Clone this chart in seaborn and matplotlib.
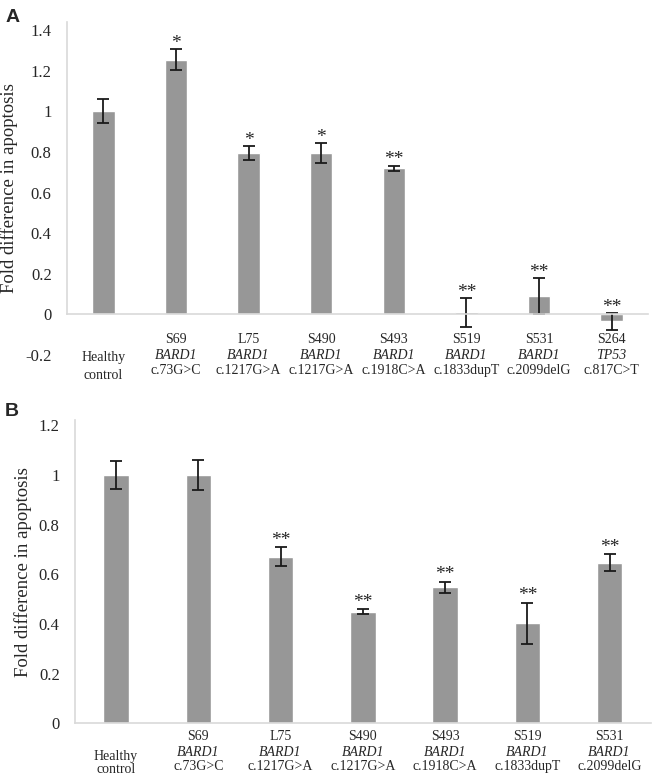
import numpy as np
import pandas as pd
import seaborn as sns
import matplotlib.pyplot as plt
from matplotlib.transforms import blended_transform_factory

# panel A
a_ids = ['', 'S69', 'L75', 'S490', 'S493', 'S519', 'S531', 'S264']
a_genes = ['', 'BARD1', 'BARD1', 'BARD1', 'BARD1', 'BARD1', 'BARD1', 'TP53']
a_variants = ['', 'c.73G>C', 'c.1217G>A', 'c.1217G>A', 'c.1918C>A', 'c.1833dupT', 'c.2099delG', 'c.817C>T']
a_values = [1.0, 1.255, 0.795, 0.795, 0.72, 0.01, 0.09, -0.035]
a_errors = [0.06, 0.05, 0.035, 0.05, 0.012, 0.07, 0.09, 0.04]
a_stars = ['', '*', '*', '*', '**', '**', '**', '**']
a_yticks = [-0.2, 0, 0.2, 0.4, 0.6, 0.8, 1, 1.2, 1.4]

# panel B
b_ids = ['', 'S69', 'L75', 'S490', 'S493', 'S519', 'S531']
b_genes = ['', 'BARD1', 'BARD1', 'BARD1', 'BARD1', 'BARD1', 'BARD1']
b_variants = ['', 'c.73G>C', 'c.1217G>A', 'c.1217G>A', 'c.1918C>A', 'c.1833dupT', 'c.2099delG']
b_values = [1.0, 1.0, 0.67, 0.449, 0.547, 0.402, 0.646]
b_errors = [0.055, 0.06, 0.038, 0.01, 0.022, 0.083, 0.034]
b_stars = ['', '', '**', '**', '**', '**', '**']
b_yticks = [0, 0.2, 0.4, 0.6, 0.8, 1, 1.2]

BAR = '#979797'
AXIS = '#d9d9d9'
ERR = '#1a1a1a'

sns.set_style('white')
plt.rcParams['font.family'] = ['Liberation Serif', 'DejaVu Serif']

fig = plt.figure(figsize=(6.52, 7.81), dpi=100)
ax_a = fig.add_axes([0.1028, 0.5455, 0.891, 0.4264])
ax_b = fig.add_axes([0.115, 0.0739, 0.883, 0.388])


def fmt(v):
    return '0' if v == 0 else ('%g' % v)


def draw_panel(ax, ids, genes, variants, values, errors, stars, yticks, ylim,
               spine_top, line_y, hc_y, star_pad):
    df = pd.DataFrame({'pos': range(len(values)), 'value': values})
    sns.barplot(data=df, x='pos', y='value', color=BAR, width=0.31,
                saturation=1, errorbar=None, ax=ax)
    ax.errorbar(df['pos'], df['value'], yerr=errors, fmt='none', ecolor=ERR,
                elinewidth=1.3, capsize=4.3, capthick=1.3)

    ax.set_xlim(-0.5, len(values) - 0.5)
    ax.set_ylim(*ylim)
    ax.set_yticks(yticks)
    ax.set_yticklabels([fmt(t) for t in yticks], fontsize=12)
    ax.set_xticks([])
    ax.set_xlabel('')
    ax.set_ylabel('Fold difference in apoptosis', fontsize=13.5, labelpad=5)
    ax.tick_params(axis='y', length=0, pad=11)

    for s in ['top', 'right']:
        ax.spines[s].set_visible(False)
    ax.spines['left'].set_color(AXIS)
    ax.spines['left'].set_linewidth(1.2)
    ax.spines['left'].set_bounds(0, spine_top)
    ax.spines['bottom'].set_position(('data', 0))
    ax.spines['bottom'].set_color(AXIS)
    ax.spines['bottom'].set_linewidth(1.2)

    tr = blended_transform_factory(ax.transData, ax.transAxes)
    for i in range(len(values)):
        if ids[i] == '':
            ax.text(i, hc_y[0], 'Healthy', transform=tr, ha='center', va='center', fontsize=10)
            ax.text(i, hc_y[1], 'control', transform=tr, ha='center', va='center', fontsize=10)
        else:
            ax.text(i, line_y[0], ids[i], transform=tr, ha='center', va='center', fontsize=10)
            ax.text(i, line_y[1], genes[i], transform=tr, ha='center', va='center',
                    fontsize=10, style='italic')
            ax.text(i, line_y[2], variants[i], transform=tr, ha='center', va='center', fontsize=10)
        if stars[i]:
            top = values[i] + errors[i]
            ax.annotate(stars[i], (i, top), xytext=(0, star_pad), textcoords='offset points',
                        ha='center', va='bottom', fontsize=14)


draw_panel(ax_a, a_ids, a_genes, a_variants, a_values, a_errors, a_stars, a_yticks,
           (-0.2, 1.44), 1.44, (0.045, -0.003, -0.048), (-0.009, -0.063), -2)
draw_panel(ax_b, b_ids, b_genes, b_variants, b_values, b_errors, b_stars, b_yticks,
           (0, 1.22), 1.22, (-0.042, -0.097, -0.144), (-0.108, -0.154), -1)

fig.text(0.008, 0.988, 'A', family=['Liberation Sans', 'DejaVu Sans'], weight='bold',
         fontsize=14, ha='left', va='top')
fig.text(0.008, 0.484, 'B', family=['Liberation Sans', 'DejaVu Sans'], weight='bold',
         fontsize=14, ha='left', va='top')

fig.savefig('out.png', dpi=100)
